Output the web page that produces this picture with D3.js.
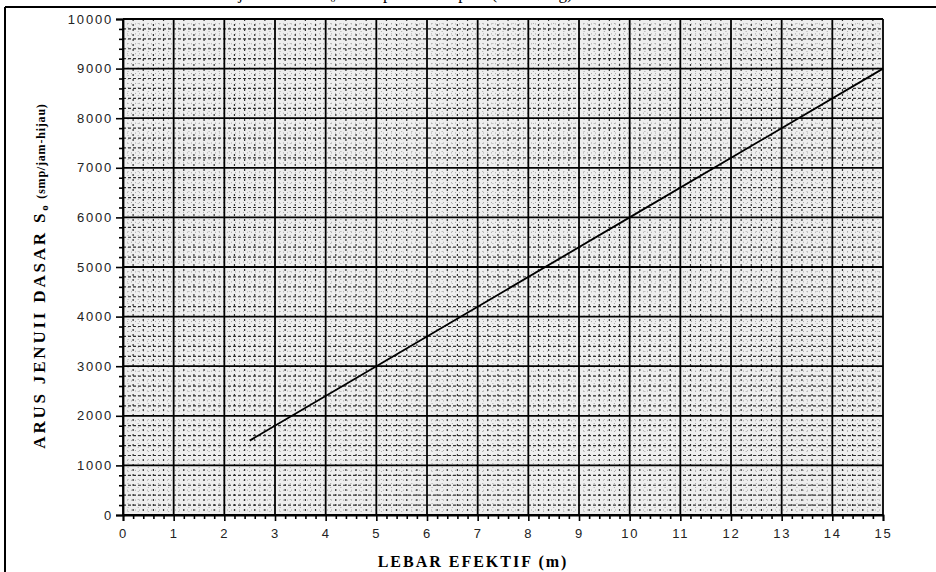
<!DOCTYPE html>
<html><head><meta charset="utf-8">
<script src="https://cdn.jsdelivr.net/npm/d3@7"></script>
<style>body{margin:0;background:#fff}svg{display:block}</style>
</head><body>
<script>
const widths = [2.5, 5, 10, 15];          // LEBAR EFEKTIF (m)
const flows = [1500, 3000, 6000, 9000];   // S0 (smp/jam-hijau)
const xTicks = [0,1,2,3,4,5,6,7,8,9,10,11,12,13,14,15];
const yTicks = [0,1000,2000,3000,4000,5000,6000,7000,8000,9000,10000];
const yTickLabels = ["0","1000","2000","3000","4000","5000","6000","7000","8000","9000","10000"];
const xTitle = "LEBAR EFEKTIF (m)";
const yTitleMain = "ARUS JENUII DASAR S";
const yTitleSub = "o";
const yTitleUnit = " (smp/jam-hijau)";
const caption = "Gambar C-3:1 Arus jenuh dasar S\u2080 untuk pendekat tipe P (terlindung)";

const W = 936, H = 572;
const m = {l:123, r:53, t:19, b:57};
const svg = d3.select("body").append("svg").attr("width", W).attr("height", H);

const x = d3.scaleLinear().domain([0,15]).range([m.l, W - m.r]);
const y = d3.scaleLinear().domain([0,10000]).range([H - m.b, m.t]);

// caption, clipped by the top of the page (only descenders visible, as in the scan)
svg.append("text").attr("x", 100).attr("y", -1)
  .attr("font-family", "Liberation Serif, serif").attr("font-size", 17)
  .text(caption);

// frame
svg.append("line").attr("x1",5).attr("x2",W).attr("y1",7).attr("y2",7).attr("stroke","#000").attr("stroke-width",2);
svg.append("line").attr("x1",5).attr("x2",5).attr("y1",7).attr("y2",H).attr("stroke","#000").attr("stroke-width",2);

// plot background
svg.append("rect").attr("x", x(0)).attr("y", y(10000))
  .attr("width", x(15)-x(0)).attr("height", y(0)-y(10000))
  .attr("fill", "#eeeeee");

const g = svg.append("g");
// fine dotted grid (0.1 / 100)
const fineX = d3.range(0, 150).map(i => i/10).filter((v,i)=> i%2===1);
const fineY = d3.range(0, 100).map(i => i*100).filter((v,i)=> i%2===1);
g.selectAll(".fx").data(fineX).join("line")
  .attr("x1", d=>x(d)).attr("x2", d=>x(d)).attr("y1", y(10000)).attr("y2", y(0))
  .attr("stroke", "#999").attr("stroke-width", 0.8).attr("stroke-dasharray", "1,3");
g.selectAll(".fy").data(fineY).join("line")
  .attr("y1", d=>y(d)).attr("y2", d=>y(d)).attr("x1", x(0)).attr("x2", x(15))
  .attr("stroke", "#999").attr("stroke-width", 0.8).attr("stroke-dasharray", "1,3");
// minor dashed grid (0.2 / 200)
const minX = d3.range(0, 75).map(i => i/5).filter((v,i)=> i%5!==0);
const minY = d3.range(0, 50).map(i => i*200).filter((v,i)=> i%5!==0);
g.selectAll(".mx").data(minX).join("line")
  .attr("x1", d=>x(d)).attr("x2", d=>x(d)).attr("y1", y(10000)).attr("y2", y(0))
  .attr("stroke", "#333").attr("stroke-width", 1.2).attr("stroke-dasharray", "2,3");
g.selectAll(".my").data(minY).join("line")
  .attr("y1", d=>y(d)).attr("y2", d=>y(d)).attr("x1", x(0)).attr("x2", x(15))
  .attr("stroke", "#333").attr("stroke-width", 1.2).attr("stroke-dasharray", "3,2");
// major grid
g.selectAll(".Mx").data(xTicks).join("line")
  .attr("x1", d=>x(d)).attr("x2", d=>x(d)).attr("y1", y(10000)).attr("y2", y(0))
  .attr("stroke", "#000").attr("stroke-width", 1.8);
g.selectAll(".My").data(yTicks).join("line")
  .attr("y1", d=>y(d)).attr("y2", d=>y(d)).attr("x1", x(0)).attr("x2", x(15))
  .attr("stroke", "#000").attr("stroke-width", 1.8);

// axes
const xAxis = svg.append("g").attr("transform", `translate(0,${y(0)})`)
  .call(d3.axisBottom(x).tickValues(xTicks).tickSize(6).tickPadding(8).tickFormat(d3.format("d")));
svg.append("g").attr("transform", `translate(0,${y(0)})`)
  .call(d3.axisBottom(x).tickValues(minX).tickSize(4).tickFormat(""))
  .call(a => a.select(".domain").remove());
const yAxis = svg.append("g").attr("transform", `translate(${x(0)},0)`)
  .call(d3.axisLeft(y).tickValues(yTicks).tickSize(7).tickPadding(3).tickFormat((d,i)=>yTickLabels[i]));
svg.append("g").attr("transform", `translate(${x(0)},0)`)
  .call(d3.axisLeft(y).tickValues(minY).tickSize(4).tickFormat(""))
  .call(a => a.select(".domain").remove());
svg.selectAll(".tick line").attr("stroke", "#000").attr("stroke-width", 1.6);
svg.selectAll(".domain").attr("stroke", "#000").attr("stroke-width", 1.8);
[xAxis, yAxis].forEach(a => a.selectAll("text")
  .attr("font-family", "Liberation Sans, Arial, sans-serif").attr("font-size", 13)
  .attr("letter-spacing", "1.8px").attr("fill", "#222"));

// data line
svg.append("path").datum(widths.map((w,i)=>[w, flows[i]]))
  .attr("fill", "none").attr("stroke", "#000").attr("stroke-width", 1.8)
  .attr("d", d3.line().x(d=>x(d[0])).y(d=>y(d[1])));

// axis titles
svg.append("text").attr("x", 473).attr("y", 567).attr("text-anchor", "middle")
  .attr("font-family", "Liberation Serif, serif").attr("font-weight", "bold").attr("font-size", 16)
  .attr("letter-spacing", "2px")
  .text(xTitle);
const yt = svg.append("text").attr("transform", `translate(45,${276}) rotate(-90)`).attr("text-anchor", "middle")
  .attr("font-family", "Liberation Serif, serif").attr("font-weight", "bold").attr("font-size", 17)
  .attr("letter-spacing", "2.8px");
yt.append("tspan").text(yTitleMain);
yt.append("tspan").attr("font-size", 11).attr("dy", 3).text(yTitleSub);
yt.append("tspan").attr("font-size", 12).attr("dy", -3).attr("letter-spacing", "0.8px").text(yTitleUnit);
</script>
</body></html>
